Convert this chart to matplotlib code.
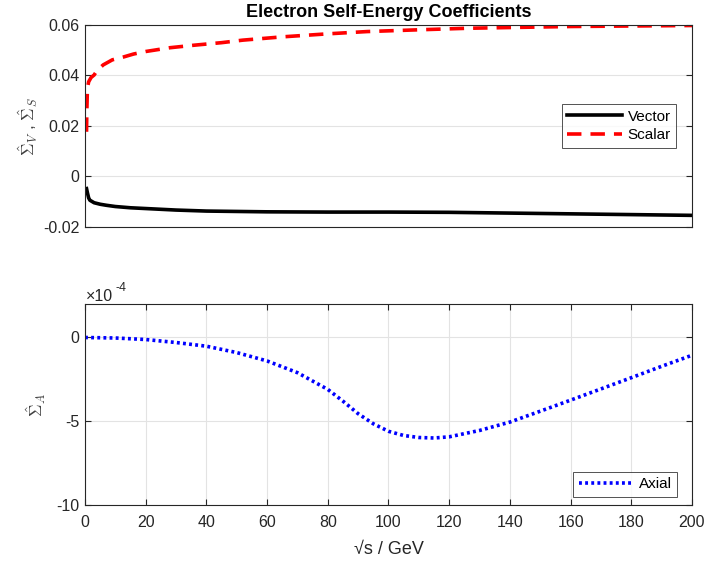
import matplotlib.pyplot as plt
from matplotlib.ticker import FuncFormatter

plt.rcParams['font.family'] = ['Liberation Sans', 'DejaVu Sans']
plt.rcParams['mathtext.fontset'] = 'cm'
plt.rcParams['axes.unicode_minus'] = False

# values
sqrt_s_vector = [0.5, 0.8, 1.2, 1.6, 3, 5, 7, 10, 15, 20, 30, 40, 60, 80, 100, 120, 140, 160, 180, 200]
sigma_vector = [-0.0048, -0.0065, -0.0085, -0.0094, -0.0104, -0.011, -0.0114, -0.0119, -0.0124, -0.0127,
                -0.0133, -0.0137, -0.014, -0.0141, -0.0141, -0.0142, -0.0145, -0.0148, -0.0151, -0.0154]

sqrt_s_scalar = [0.5, 0.6, 0.8, 1.2, 2, 3, 4, 6, 9, 12.6, 16, 20, 28, 36, 45, 52, 65, 80, 93, 110,
                 126, 145, 160, 180, 200]
sigma_scalar = [0.0177, 0.026, 0.035, 0.0375, 0.0392, 0.0402, 0.042, 0.0442, 0.0462, 0.0473, 0.0485,
                0.0495, 0.051, 0.052, 0.053, 0.054, 0.0553, 0.0565, 0.0574, 0.0581, 0.0587, 0.0591,
                0.0594, 0.0596, 0.0598]

sqrt_s_axial = [0, 10, 20, 30, 40, 50, 60, 70, 80, 85, 90, 95, 100, 105, 110, 115, 120, 130, 140,
                150, 160, 170, 180, 190, 200]
sigma_axial = [0.0, -0.03e-4, -0.12e-4, -0.3e-4, -0.52e-4, -0.9e-4, -1.4e-4, -2.1e-4, -3.1e-4, -3.8e-4,
               -4.55e-4, -5.15e-4, -5.6e-4, -5.85e-4, -5.97e-4, -6.0e-4, -5.93e-4, -5.55e-4, -5.05e-4,
               -4.4e-4, -3.74e-4, -3.07e-4, -2.4e-4, -1.72e-4, -1.06e-4]

axis_color = '#262626'
grid_color = '#e3e3e3'

fig = plt.figure(figsize=(7.09, 5.68), dpi=100)
ax1 = fig.add_axes([0.1199, 0.6004, 0.8561, 0.3556])
ax2 = fig.add_axes([0.1199, 0.1109, 0.8561, 0.3539])

# top panel
ax1.plot(sqrt_s_vector, sigma_vector, color='k', lw=2.6, label='Vector')
ax1.plot(sqrt_s_scalar, sigma_scalar, color='r', lw=2.6, ls=(0, (4, 2.5)), label='Scalar')
ax1.set_xlim(0, 200)
ax1.set_ylim(-0.02, 0.06)
ax1.set_xticks([])
ax1.set_yticks([-0.02, 0, 0.02, 0.04, 0.06])
ax1.yaxis.set_major_formatter(FuncFormatter(lambda v, p: '%g' % round(v, 4)))
ax1.set_ylabel(r'$\hat{\Sigma}_V$ , $\hat{\Sigma}_S$', fontsize=12.5, color='#404040', labelpad=2)
ax1.set_title('Electron Self-Energy Coefficients', fontsize=13, fontweight='bold', pad=6)
leg1 = ax1.legend(loc='center right', bbox_to_anchor=(0.974, 0.5), fontsize=11, fancybox=False,
                  edgecolor=axis_color, handlelength=3.6, borderpad=0.35, labelspacing=0.3,
                  handletextpad=0.35, borderaxespad=0)
leg1.get_frame().set_linewidth(0.7)

# bottom panel
ax2.plot(sqrt_s_axial, sigma_axial, color='b', lw=2.6, ls=(0, (0.8, 0.9)), label='Axial')
ax2.set_xlim(0, 200)
ax2.set_ylim(-10e-4, 2e-4)
ax2.set_xticks(range(0, 201, 20))
ax2.set_yticks([-10e-4, -5e-4, 0])
ax2.yaxis.set_major_formatter(FuncFormatter(lambda v, p: '%g' % round(v * 1e4, 3)))
ax2.text(0.002, 1.013, '\u00d710', transform=ax2.transAxes, fontsize=11.5,
         color=axis_color, va='baseline', ha='left')
ax2.text(0.051, 1.063, '-4', transform=ax2.transAxes, fontsize=9,
         color=axis_color, va='baseline', ha='left')
ax2.set_ylabel(r'$\hat{\Sigma}_A$', fontsize=12.5, color='#404040', labelpad=6)
ax2.set_xlabel('\u221as / GeV', fontsize=13, color=axis_color, labelpad=8)
leg2 = ax2.legend(loc='lower right', bbox_to_anchor=(0.976, 0.041), fontsize=11, fancybox=False,
                  edgecolor=axis_color, handlelength=3.6, borderpad=0.35, handletextpad=0.35,
                  borderaxespad=0)
leg2.get_frame().set_linewidth(0.7)

for ax in (ax1, ax2):
    ax.grid(True, color=grid_color, lw=0.8)
    ax.set_axisbelow(True)
    for s in ax.spines.values():
        s.set_color(axis_color)
        s.set_linewidth(0.8)
    ax.tick_params(direction='in', length=4, width=0.8, color=axis_color, labelcolor=axis_color,
                   labelsize=11.5, top=True, right=True)
    ax.tick_params(axis='y', pad=4)
ax2.tick_params(axis='x', pad=7)

fig.savefig('out.png', dpi=100)
